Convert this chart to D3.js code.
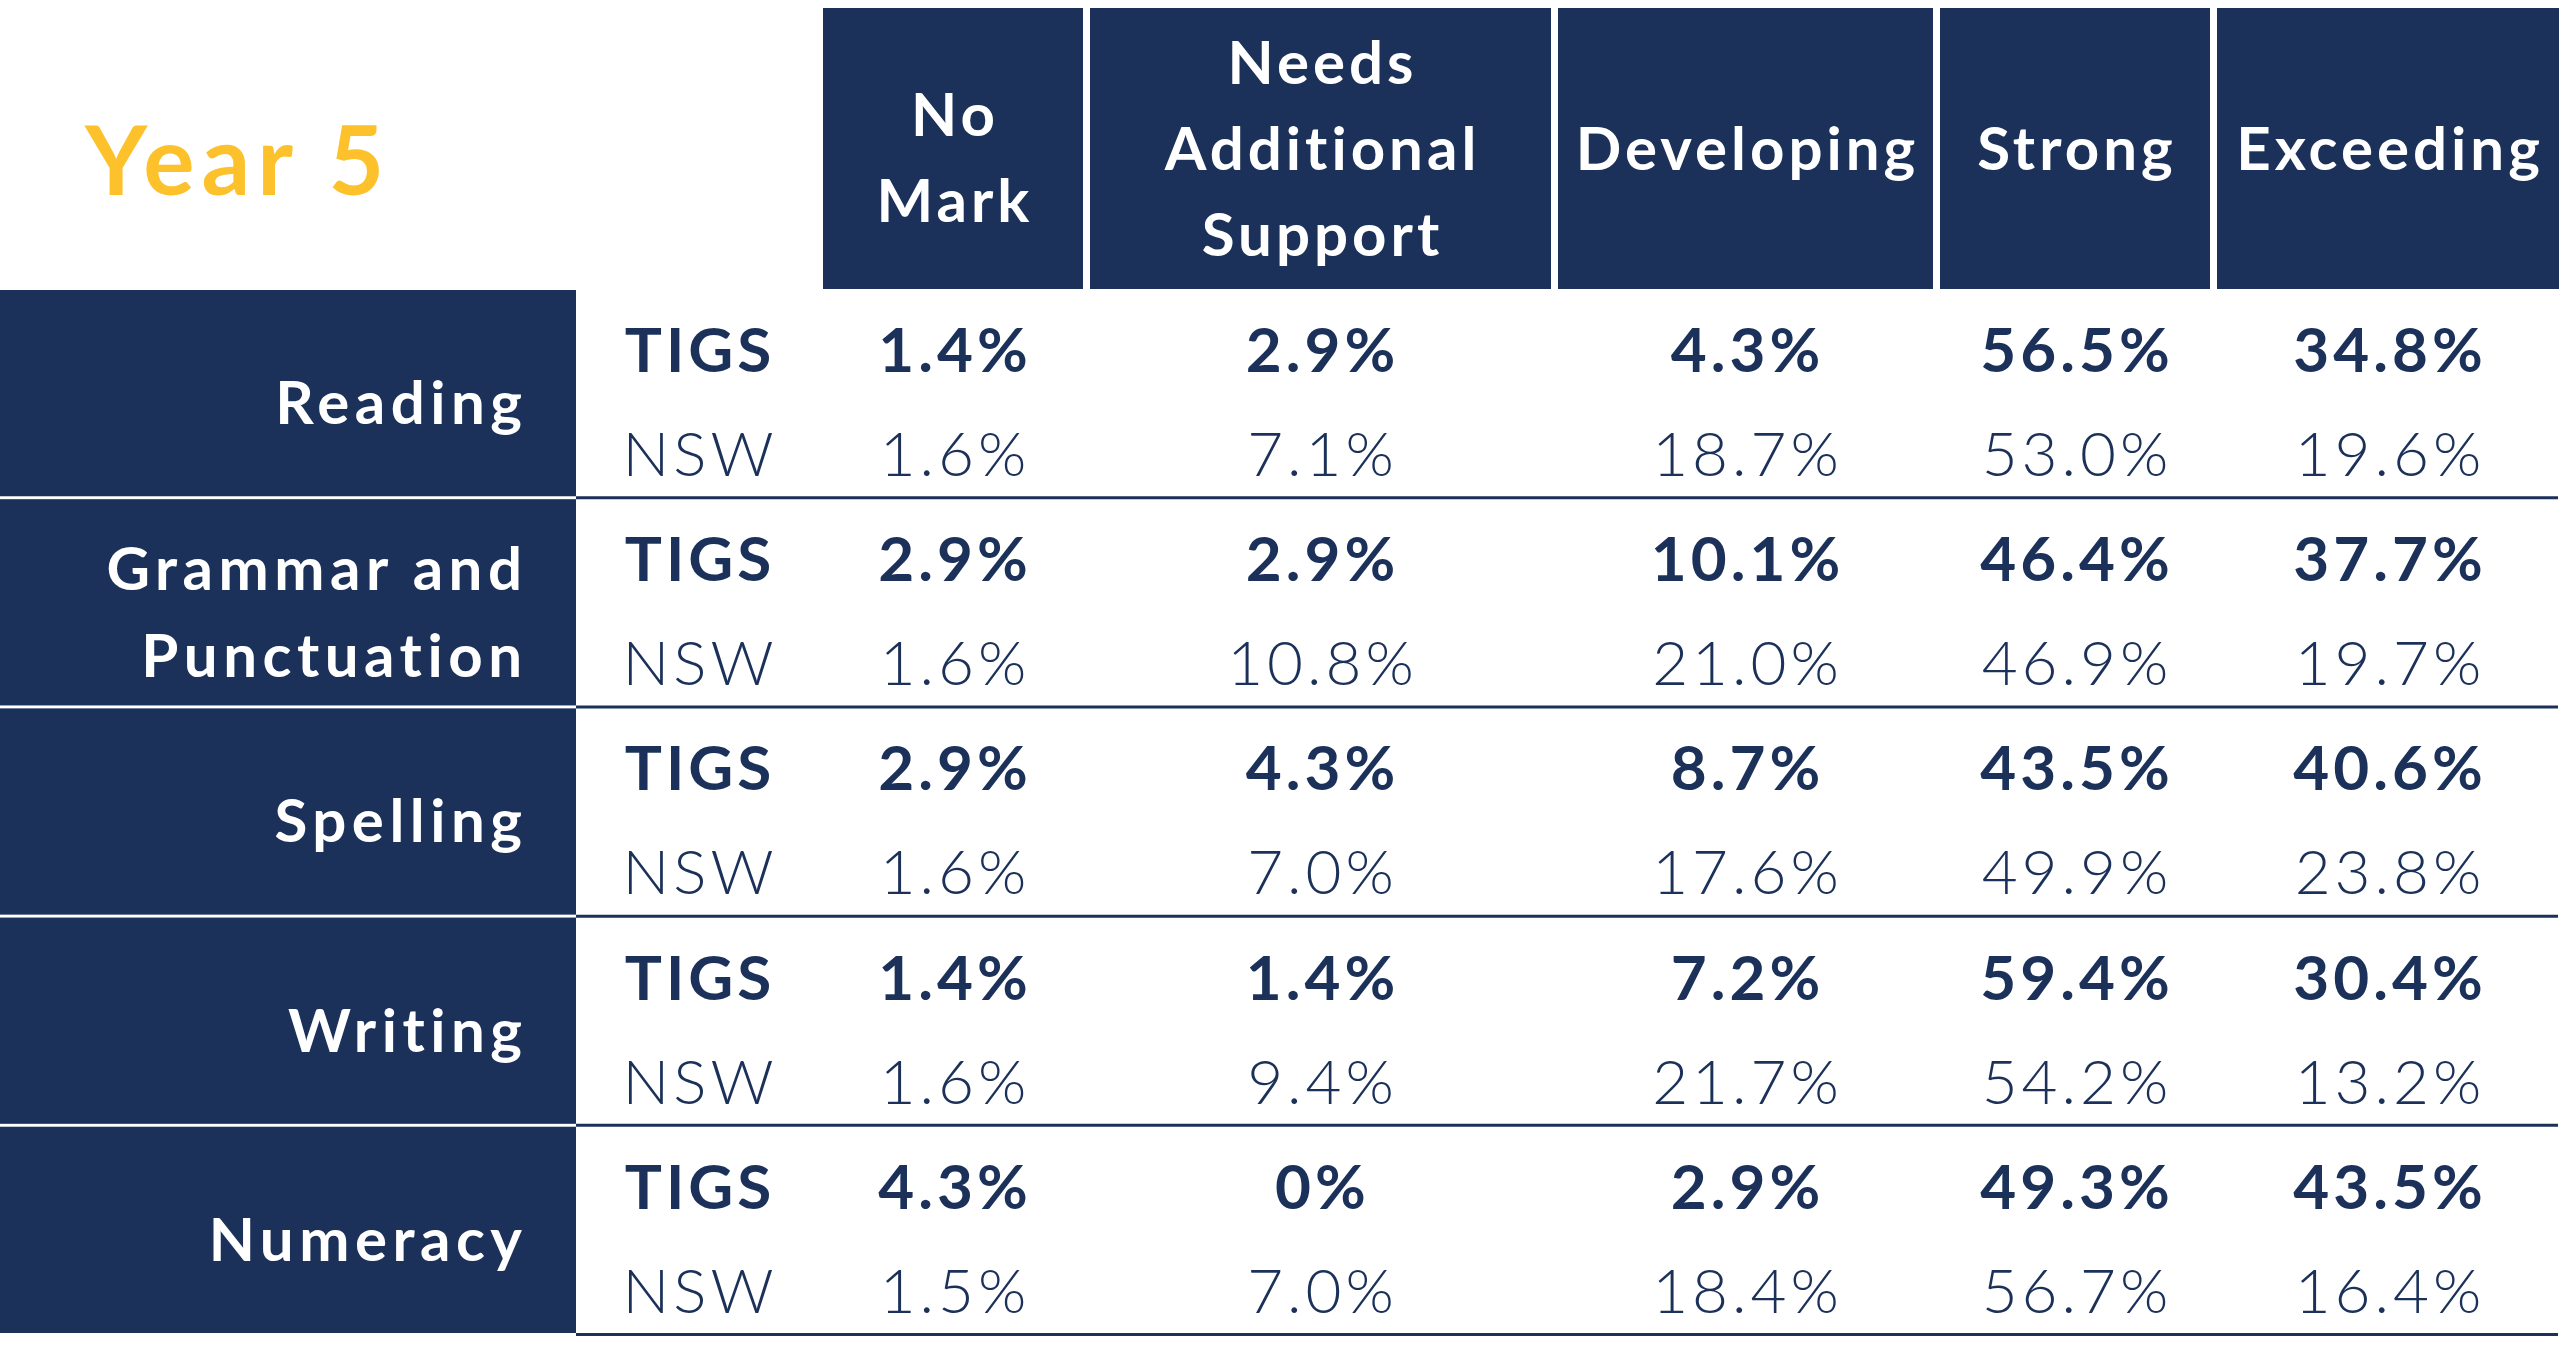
<!doctype html>
<html>
<head>
  <script src="https://cdn.jsdelivr.net/npm/d3@7"></script>
  <style>
    body { margin: 0; background: #fff; }
    text { font-family: Lato, "Noto Sans", sans-serif; }
  </style>
</head>
<body>
  <div id="viz"></div>
  <script>
    // data
    var title = "Year 5";
    var levels = ["No Mark", "Needs Additional Support", "Developing", "Strong", "Exceeding"];
    var levelLines = [["No", "Mark"], ["Needs", "Additional", "Support"], ["Developing"], ["Strong"], ["Exceeding"]];
    var subjects = ["Reading", "Grammar and Punctuation", "Spelling", "Writing", "Numeracy"];
    var subjectLines = [["Reading"], ["Grammar and", "Punctuation"], ["Spelling"], ["Writing"], ["Numeracy"]];
    var groups = ["TIGS", "NSW"];
    var tigs = [
      [1.4, 2.9, 4.3, 56.5, 34.8],
      [2.9, 2.9, 10.1, 46.4, 37.7],
      [2.9, 4.3, 8.7, 43.5, 40.6],
      [1.4, 1.4, 7.2, 59.4, 30.4],
      [4.3, 0, 2.9, 49.3, 43.5]
    ];
    var nsw = [
      [1.6, 7.1, 18.7, 53.0, 19.6],
      [1.6, 10.8, 21.0, 46.9, 19.7],
      [1.6, 7.0, 17.6, 49.9, 23.8],
      [1.6, 9.4, 21.7, 54.2, 13.2],
      [1.5, 7.0, 18.4, 56.7, 16.4]
    ];

    // layout
    var W = 2560, H = 1358;
    var navy = "#1b3159", gold = "#fdc12b";
    var colWidths = [260, 461, 375, 270, 342], colGap = 7, colStart = 823;
    var colX = [];
    colWidths.reduce(function(x, w) { colX.push(x); return x + w + colGap; }, colStart);

    var xStart = d3.scaleOrdinal().domain(levels).range(colX);
    var xWidth = d3.scaleOrdinal().domain(levels).range(colWidths);
    var xMid = function(l) { return xStart(l) + xWidth(l) / 2; };

    var y = d3.scaleBand().domain(subjects).range([290, 1333]).paddingInner(0.014);
    var headTop = 8, headBottom = 289;

    var fmt = function(v) { return v === 0 ? "0%" : v.toFixed(1) + "%"; };

    // letter spacing (px); trailing space is compensated on x
    var lsHead = 4, lsSubj = 5.5, lsCell = 4;

    var svg = d3.select("#viz").append("svg")
      .attr("width", W).attr("height", H);

    // title
    svg.append("text")
      .attr("x", 85).attr("y", 195)
      .attr("fill", gold)
      .style("font-size", "96px").style("font-weight", 700)
      .style("letter-spacing", "7px")
      .text(title);

    // header boxes
    var head = svg.selectAll(".head").data(levels).enter().append("g").attr("class", "head");
    head.append("rect")
      .attr("x", function(d) { return xStart(d); })
      .attr("y", headTop)
      .attr("width", function(d) { return xWidth(d); })
      .attr("height", headBottom - headTop)
      .attr("fill", navy);
    head.each(function(d, i) {
      var lines = levelLines[i], n = lines.length;
      var shift = n === 2 ? 9 : 0;
      d3.select(this).selectAll("text").data(lines).enter().append("text")
        .attr("x", xMid(d) + lsHead / 2)
        .attr("y", function(t, j) { return 170 + (j - (n - 1) / 2) * 86 + shift; })
        .attr("text-anchor", "middle")
        .attr("fill", "#fff")
        .style("font-size", "60px").style("font-weight", 700)
        .style("letter-spacing", lsHead + "px")
        .text(function(t) { return t; });
    });

    // subject rows
    var row = svg.selectAll(".row").data(subjects).enter().append("g").attr("class", "row")
      .attr("transform", function(d) { return "translate(0," + y(d) + ")"; });

    row.append("rect")
      .attr("x", 0).attr("y", 0)
      .attr("width", 576).attr("height", y.bandwidth())
      .attr("fill", navy);

    row.append("line")
      .attr("x1", 576).attr("x2", 2558)
      .attr("y1", y.bandwidth() + 1.5).attr("y2", y.bandwidth() + 1.5)
      .attr("stroke", navy).attr("stroke-width", 3);

    row.each(function(d, i) {
      var g = d3.select(this);
      var lines = subjectLines[i], n = lines.length;
      g.selectAll(".subj").data(lines).enter().append("text").attr("class", "subj")
        .attr("x", 522 + lsSubj)
        .attr("y", function(t, j) { return 134 + (j - (n - 1) / 2) * 87; })
        .attr("text-anchor", "end")
        .attr("fill", "#fff")
        .style("font-size", "60px").style("font-weight", 700)
        .style("letter-spacing", lsSubj + "px")
        .text(function(t) { return t; });

      // group labels
      g.selectAll(".grp").data(groups).enter().append("text").attr("class", "grp")
        .attr("x", 698 + lsCell / 2)
        .attr("y", function(t, j) { return j === 0 ? 82 : 186; })
        .attr("text-anchor", "middle")
        .attr("fill", navy)
        .style("font-size", "62px")
        .style("font-weight", function(t, j) { return j === 0 ? 700 : 300; })
        .style("letter-spacing", lsCell + "px")
        .text(function(t) { return t; });

      g.selectAll(".tv").data(tigs[i]).enter().append("text").attr("class", "tv")
        .attr("x", function(v, k) { return xMid(levels[k]) + lsCell / 2; })
        .attr("y", 82)
        .attr("text-anchor", "middle")
        .attr("fill", navy)
        .style("font-size", "62px").style("font-weight", 700)
        .style("letter-spacing", lsCell + "px")
        .text(fmt);

      g.selectAll(".nv").data(nsw[i]).enter().append("text").attr("class", "nv")
        .attr("x", function(v, k) { return xMid(levels[k]) + lsCell / 2; })
        .attr("y", 186)
        .attr("text-anchor", "middle")
        .attr("fill", navy)
        .style("font-size", "62px").style("font-weight", 300)
        .style("letter-spacing", lsCell + "px")
        .text(fmt);
    });
  </script>
</body>
</html>
